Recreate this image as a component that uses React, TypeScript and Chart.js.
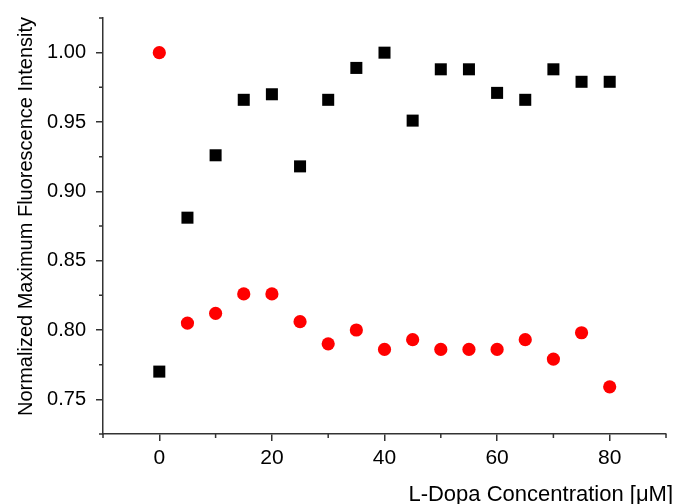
import React, { useEffect, useRef } from "react";
import { Chart, registerables } from "chart.js";

Chart.register(...registerables);

const concentrations = [0, 5, 10, 15, 20, 25, 30, 35, 40, 45, 50, 55, 60, 65, 70, 75, 80];
const blackSeries = [0.770, 0.881, 0.926, 0.966, 0.970, 0.918, 0.966, 0.989, 1.000, 0.951, 0.988, 0.988, 0.971, 0.966, 0.988, 0.979, 0.979];
const redSeries = [1.000, 0.805, 0.812, 0.826, 0.826, 0.806, 0.790, 0.800, 0.786, 0.793, 0.786, 0.786, 0.786, 0.793, 0.779, 0.798, 0.759];

const xMajorTicks = [0, 20, 40, 60, 80];
const xMinorTicks = [-10, 10, 30, 50, 70, 90];
const yMajorTicks = [0.75, 0.80, 0.85, 0.90, 0.95, 1.00];
const yMinorTicks = [0.725, 0.775, 0.825, 0.875, 0.925, 0.975, 1.025];

const xTitle = "L-Dopa Concentration [\u03bcM]";
const yTitle = "Normalized Maximum Fluorescence Intensity";

const FONT = "'Liberation Sans', Arial, sans-serif";
const AXIS_COLOR = "#333333";

const minorTicksPlugin = {
  id: "minorTicks",
  afterDraw(chart: any) {
    const ctx = chart.ctx;
    const x = chart.scales.x;
    const y = chart.scales.y;
    const area = chart.chartArea;
    ctx.save();
    ctx.strokeStyle = AXIS_COLOR;
    ctx.lineWidth = 1.5;
    ctx.beginPath();
    xMinorTicks.forEach((v) => {
      const px = x.getPixelForValue(v);
      ctx.moveTo(px, area.bottom);
      ctx.lineTo(px, area.bottom + 4);
    });
    yMinorTicks.forEach((v) => {
      const py = y.getPixelForValue(v);
      ctx.moveTo(area.left - 4, py);
      ctx.lineTo(area.left, py);
    });
    ctx.stroke();
    ctx.restore();
  },
};

const titlesPlugin = {
  id: "axisTitles",
  afterDraw(chart: any) {
    const ctx = chart.ctx;
    const area = chart.chartArea;
    ctx.save();
    ctx.fillStyle = "#000";
    ctx.textBaseline = "alphabetic";
    ctx.font = `22px ${FONT}`;
    ctx.textAlign = "right";
    ctx.fillText(xTitle, area.right + 7, chart.height - 3.5);
    ctx.font = `20px ${FONT}`;
    ctx.translate(32, (area.top + area.bottom) / 2 - 9.5);
    ctx.rotate(-Math.PI / 2);
    ctx.textAlign = "center";
    ctx.fillText(yTitle, 0, 0);
    ctx.restore();
  },
};

export default function App() {
  const canvasRef = useRef<HTMLCanvasElement | null>(null);

  useEffect(() => {
    if (!canvasRef.current) return;
    const chart = new Chart(canvasRef.current, {
      type: "scatter",
      data: {
        datasets: [
          {
            label: "Series A",
            data: concentrations.map((c, i) => ({ x: c, y: blackSeries[i] })),
            pointStyle: "rect",
            pointRadius: 8.5,
            pointHoverRadius: 8.5,
            backgroundColor: "#000000",
            borderColor: "#000000",
            borderWidth: 0,
            showLine: false,
          },
          {
            label: "Series B",
            data: concentrations.map((c, i) => ({ x: c, y: redSeries[i] })),
            pointStyle: "circle",
            pointRadius: 6.6,
            pointHoverRadius: 6.6,
            backgroundColor: "#ff0000",
            borderColor: "#ff0000",
            borderWidth: 0,
            showLine: false,
          },
        ],
      },
      options: {
        animation: false,
        responsive: false,
        maintainAspectRatio: false,
        layout: { autoPadding: false, padding: { top: 18, right: 9, left: 0, bottom: 0 } },
        plugins: {
          legend: { display: false },
          tooltip: { enabled: false },
        },
        scales: {
          x: {
            type: "linear",
            min: -10,
            max: 90,
            afterFit(scale: any) {
              scale.height = 70;
              scale.paddingLeft = 0;
              scale.paddingRight = 0;
            },
            afterBuildTicks(scale: any) {
              scale.ticks = xMajorTicks.map((v) => ({ value: v }));
            },
            ticks: {
              color: "#000",
              font: { family: FONT, size: 21 },
              padding: 5,
              maxRotation: 0,
              autoSkip: false,
              callback: (v: any) => String(v),
            },
            grid: {
              drawOnChartArea: false,
              drawTicks: true,
              tickLength: 7,
              color: AXIS_COLOR,
              lineWidth: 1.5,
            },
            border: { display: true, color: AXIS_COLOR, width: 1.5 },
          },
          y: {
            type: "linear",
            min: 0.725,
            max: 1.025,
            afterFit(scale: any) {
              scale.width = 103;
              scale.paddingTop = 0;
              scale.paddingBottom = 0;
            },
            afterBuildTicks(scale: any) {
              scale.ticks = yMajorTicks.map((v) => ({ value: v }));
            },
            ticks: {
              color: "#000",
              font: { family: FONT, size: 20 },
              padding: 10,
              autoSkip: false,
              callback: (v: any) => Number(v).toFixed(2),
            },
            grid: {
              drawOnChartArea: false,
              drawTicks: true,
              tickLength: 7,
              color: AXIS_COLOR,
              lineWidth: 1.5,
            },
            border: { display: true, color: AXIS_COLOR, width: 1.5 },
          },
        },
      },
      plugins: [minorTicksPlugin, titlesPlugin],
    });
    return () => chart.destroy();
  }, []);

  return (
    <div style={{ position: "fixed", left: 0, top: 0, width: 675, height: 504, background: "#fff" }}>
      <canvas ref={canvasRef} width={675} height={504} />
    </div>
  );
}
